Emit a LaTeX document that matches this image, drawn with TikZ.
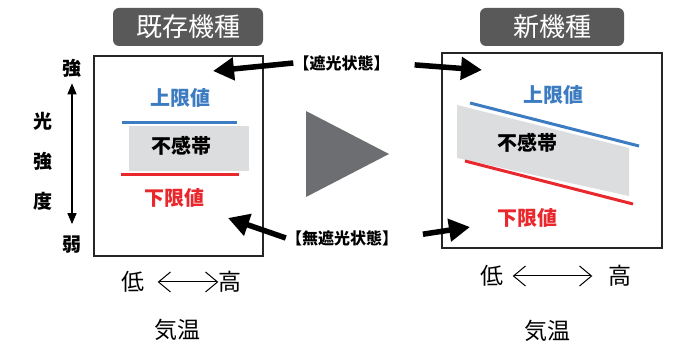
\documentclass[tikz,border=0pt]{standalone}
\usepackage{fontspec}
\setmainfont{Noto Sans CJK JP}
\usetikzlibrary{arrows.meta,positioning}

\definecolor{tabgray}{HTML}{595959}
\definecolor{bandgray}{HTML}{DCDDDF}
\definecolor{limblue}{HTML}{3D7CC1}
\definecolor{limred}{HTML}{E8282D}
\definecolor{playgray}{HTML}{6D6E71}

\tikzset{
  tab/.style={fill=tabgray,rounded corners=6pt,text=white,minimum height=38pt,inner sep=0pt,font=\fontsize{26}{26}\selectfont},
  frame/.style={draw=black!85,line width=2.6pt,inner sep=0pt},
  axislbl/.style={inner sep=0pt,font=\fontsize{19}{19}\selectfont\bfseries},
  limtext/.style={inner sep=0pt,font=\fontsize{20}{20}\selectfont\bfseries},
  limline/.style={line width=3pt},
  tempnote/.style={inner sep=0pt,font=\fontsize{23}{23}\selectfont},
  statelbl/.style={inner sep=0pt,font=\fontsize{16}{16}\selectfont\bfseries},
  bigarrow/.style={line width=5.5pt,-{Triangle[length=21pt,width=22pt]}},
  axisarrow/.style={line width=1.3pt,{Triangle[length=11pt,width=9pt]}-{Triangle[length=11pt,width=9pt]}},
  rangearrow/.style={line width=1pt,{Straight Barb[length=12pt,width=20pt]}-{Straight Barb[length=12pt,width=20pt]}}
}

\begin{document}
\begin{tikzpicture}[x=1pt,y=-1pt]
\useasboundingbox (0,0) rectangle (678,347);

% titles
\node[tab,minimum width=150pt] (tabOld) at (188,27) {既存機種};
\node[tab,minimum width=144pt] (tabNew) at (552,27) {新機種};

% old model
\node[fill=bandgray,minimum width=120pt,minimum height=45pt,inner sep=0pt] (bandOld) at (189,148.5) {};
\node[frame,minimum width=169pt,minimum height=200pt] (boxOld) at (178.5,156) {};
\draw[limline,limblue] (122,123) -- (237,123);
\draw[limline,limred] (121,175) -- (239,175);
\node[limtext,text=limblue] (upOld) at (180,98) {上限値};
\node[limtext] (deadOld) at (181,146) {不感帯};
\node[limtext,text=limred] (lowlimOld) at (174,198) {下限値};

% new model
\fill[bandgray] (457,105) -- (629,148) -- (629,196) -- (457,158) -- cycle;
\node[frame,minimum width=220pt,minimum height=195pt] (boxNew) at (552,150.5) {};
\draw[limline,limblue] (470,103) -- (639,146);
\draw[limline,limred] (465,161) -- (633,204);
\node[limtext,text=limblue] (upNew) at (553,95) {上限値};
\node[limtext] (deadNew) at (527,143) {不感帯};
\node[limtext,text=limred] (lowlimNew) at (527,218) {下限値};

% play mark
\fill[playgray] (306,111) -- (389,154) -- (306,197) -- cycle;

% light intensity axis
\foreach \c [count=\n] in {光,強,度}
  \node[axislbl] (ax\n) at (43,{81+\n*40}) {\c};
\node[axislbl] (strong) at (72,68) {強};
\node[axislbl] (weak) at (72,245) {弱};
\draw[axisarrow,shorten <=6pt,shorten >=12pt] (strong) -- (weak);

% temperature
\node[tempnote] (lowOld) at (133,282) {低};
\node[tempnote] (highOld) at (230,282) {高};
\draw[rangearrow,shorten <=13pt] (lowOld.east) -- (highOld.west);
\node[tempnote] (tempOld) at (177,330) {気温};
\node[tempnote] (lowNew) at (492,276) {低};
\node[tempnote] (highNew) at (620,276) {高};
\draw[rangearrow,shorten <=9pt,shorten >=16pt] (lowNew.east) -- (highNew.west);
\node[tempnote] (tempNew) at (547,331) {気温};

% states
\node[statelbl] (shade) at (341.5,63) {【遮光状態】};
\coordinate (shadeOld) at (213,71);
\coordinate (shadeNew) at (482,70);
\draw[bigarrow] (shade.west) -- (shadeOld);
\draw[bigarrow,shorten <=25pt] (shade.east) -- (shadeNew);

\node[statelbl] (noshade) at (342,238) {【無遮光状態】};
\coordinate (noshadeOld) at (228,218);
\coordinate (noshadeNew) at (470,227);
\draw[bigarrow] (noshade.west) -- (noshadeOld);
\draw[bigarrow,shorten <=25pt] (noshade.east) -- (noshadeNew);
\end{tikzpicture}
\end{document}
